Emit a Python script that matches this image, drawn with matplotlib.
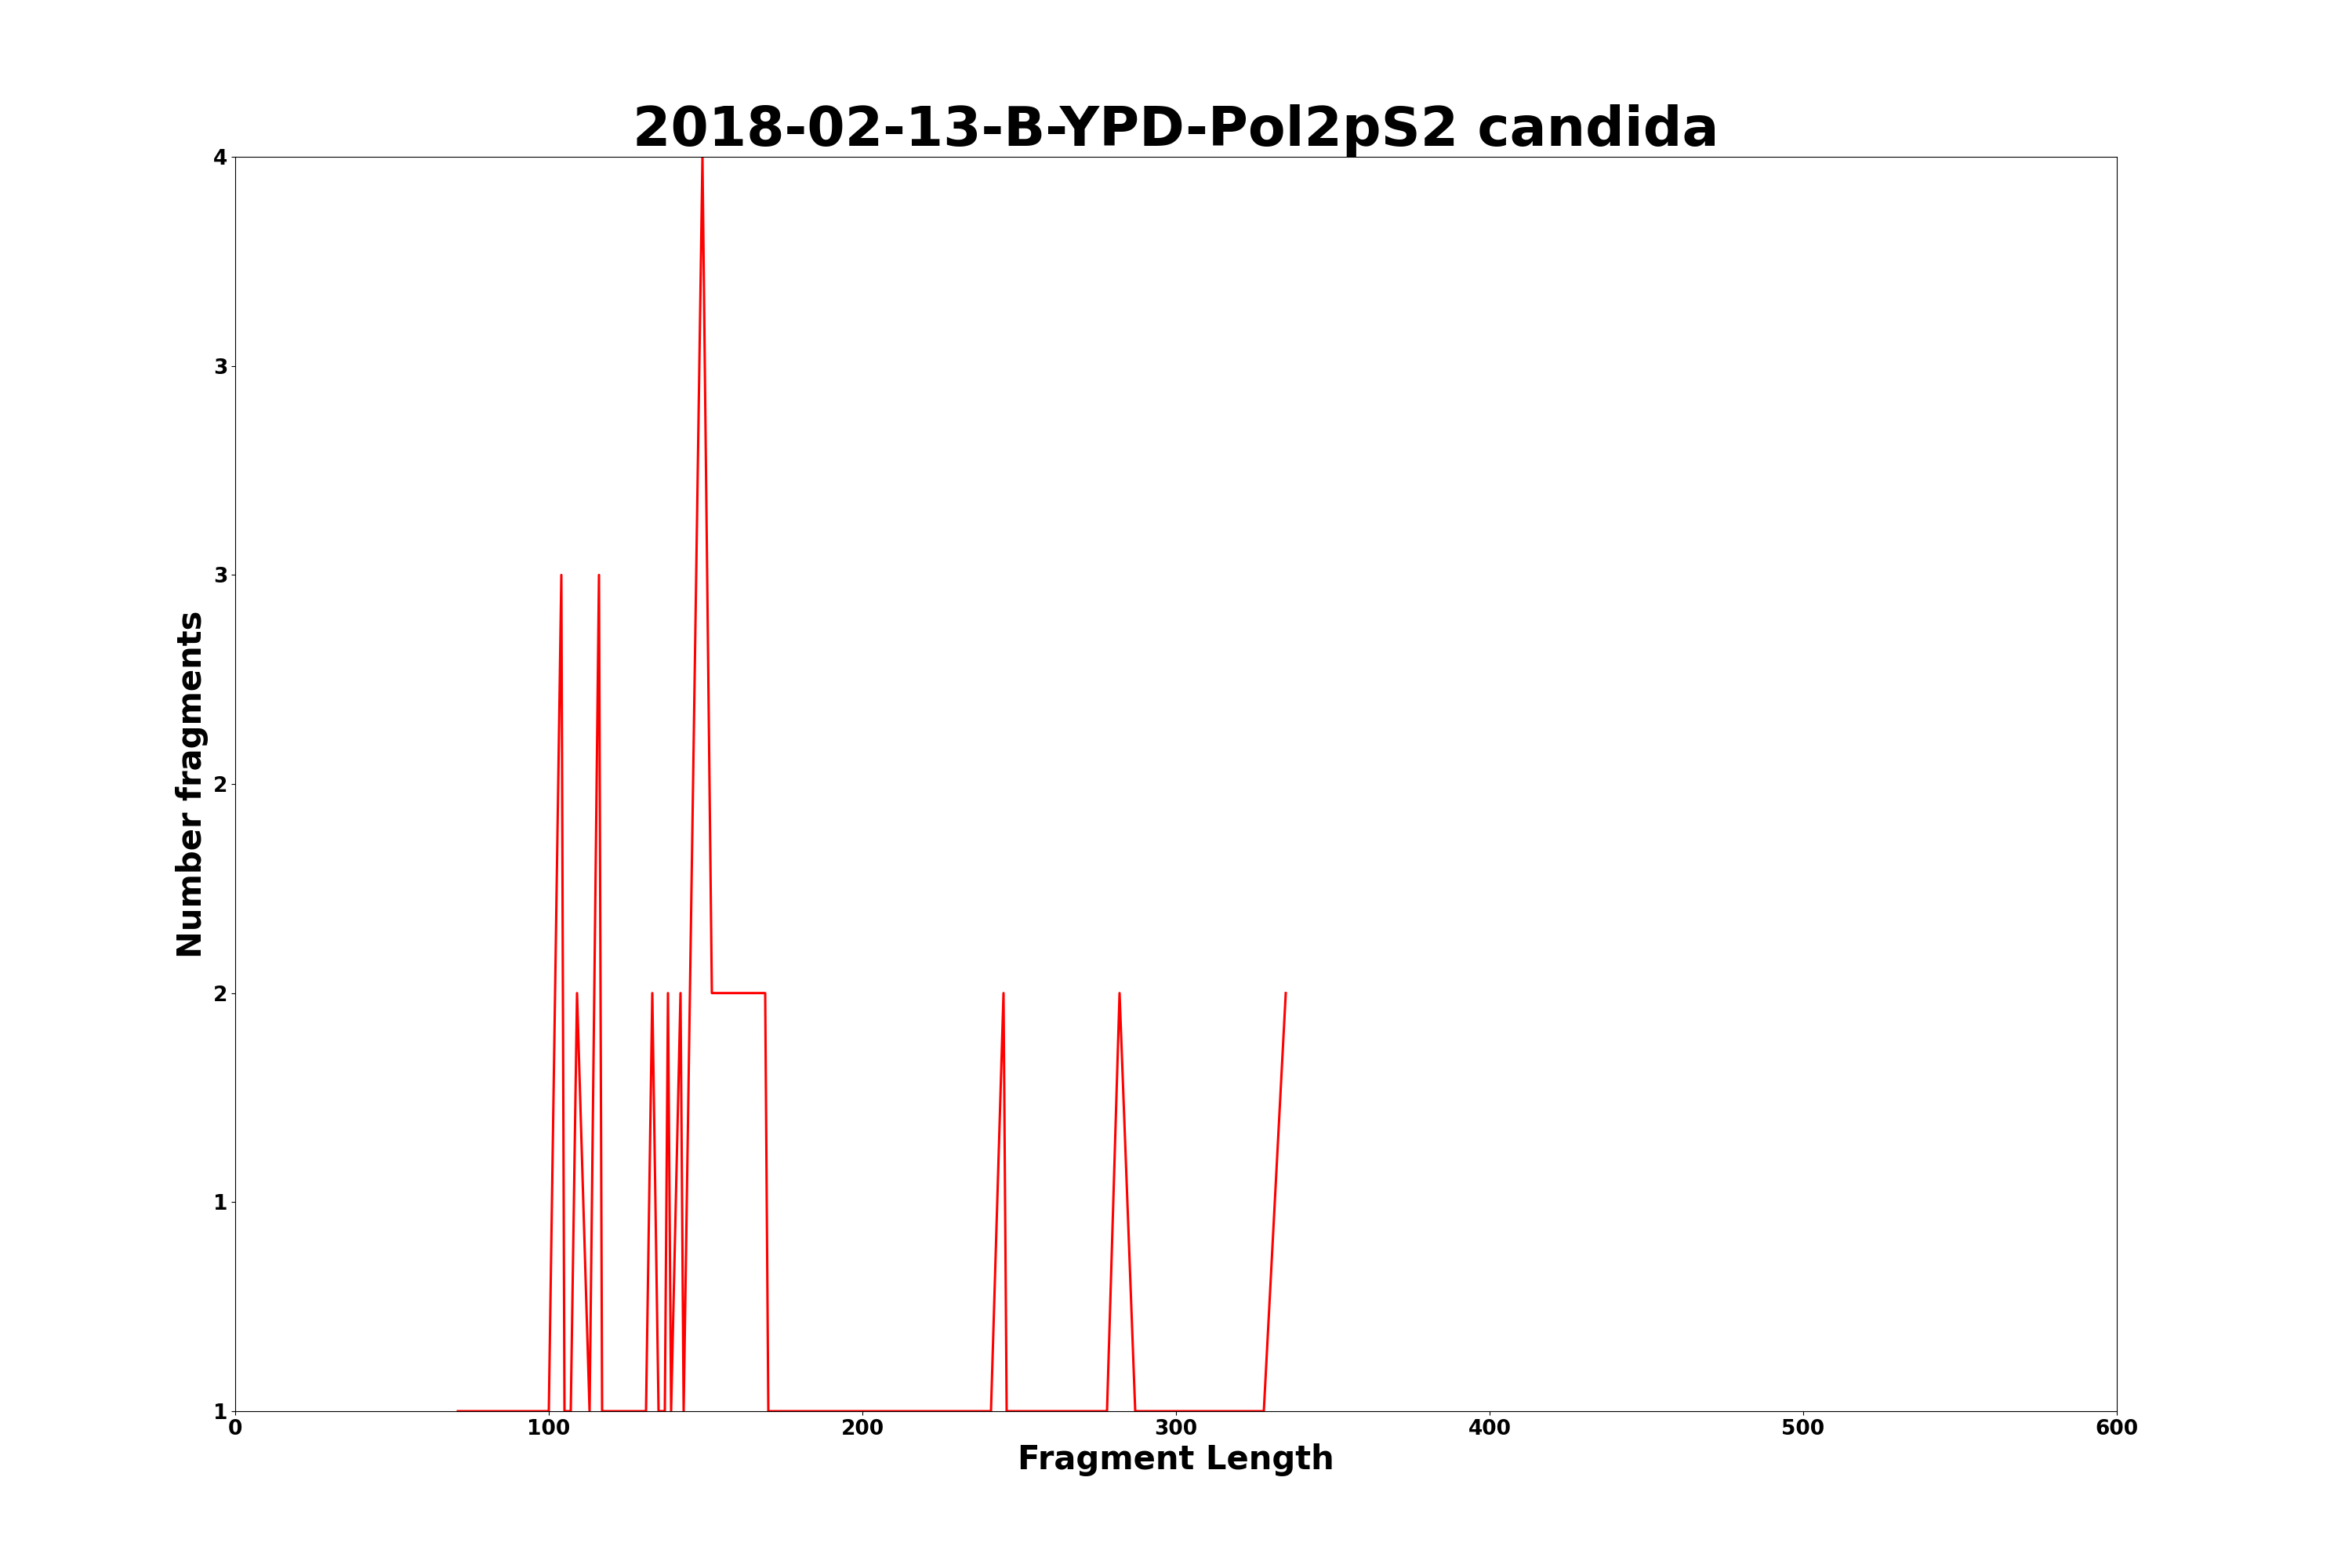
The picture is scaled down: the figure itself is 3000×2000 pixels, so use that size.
import matplotlib
matplotlib.use('Agg')
import matplotlib.pyplot as plt
from matplotlib.ticker import FormatStrFormatter

# Fragment length distribution
frag_length = [71, 100, 104, 105, 107, 109, 113, 116, 117, 131, 133, 135, 137, 138, 139,
               142, 143, 145, 149, 152, 169, 170, 241, 245, 246, 278, 282, 287, 328, 335]
num_fragments = [1, 1, 3, 1, 1, 2, 1, 3, 1, 1, 2, 1, 1, 2, 1,
                 2, 1, 2, 4, 2, 2, 1, 1, 2, 1, 1, 2, 1, 1, 2]

title = '2018-02-13-B-YPD-Pol2pS2 candida'

fig = plt.figure(figsize=(30, 20), dpi=100)
ax = fig.add_axes([0.1, 0.1, 0.8, 0.8])
ax.plot(frag_length, num_fragments, color='red', linewidth=2.2)
ax.set_xlim(0, 600)
ax.set_ylim(1, 4)
ax.yaxis.set_major_formatter(FormatStrFormatter('%d'))
ax.set_title(title, fontsize=50, fontweight='bold', pad=1)
ax.set_xlabel('Fragment Length', fontsize=30, fontweight='bold')
ax.set_ylabel('Number fragments', fontsize=30, fontweight='bold')
for lbl in ax.get_xticklabels() + ax.get_yticklabels():
    lbl.set_fontsize(19)
    lbl.set_fontweight('bold')

fig.savefig('out.png', dpi=100)
plt.close()
